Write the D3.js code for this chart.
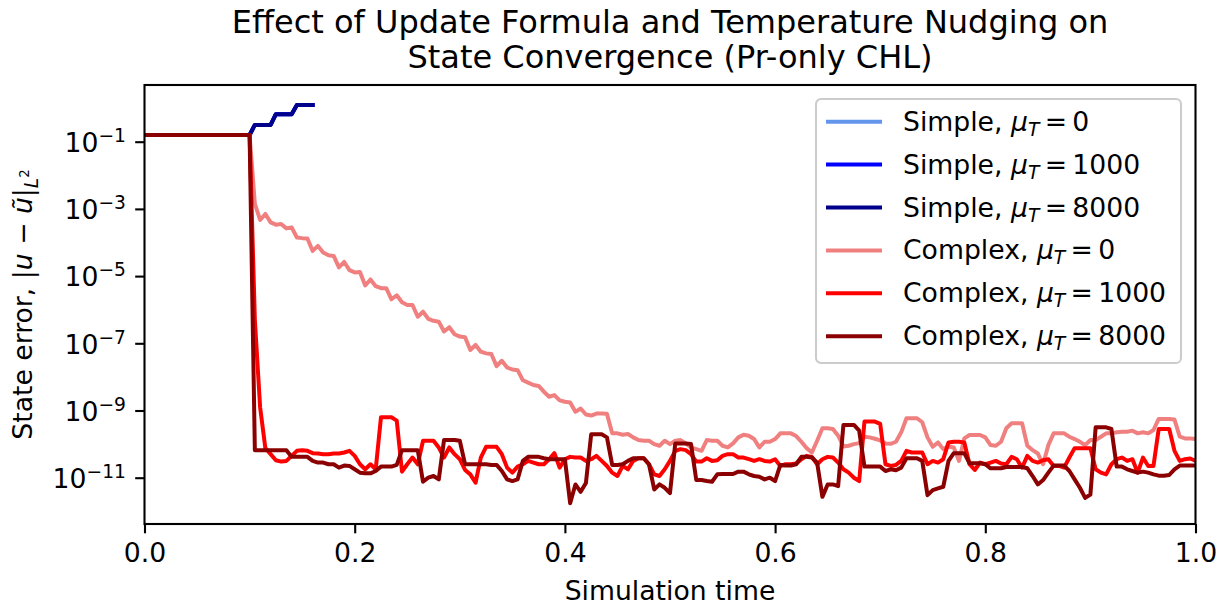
<!DOCTYPE html>
<html>
<head>
<meta charset="utf-8">
<script src="https://cdn.jsdelivr.net/npm/d3@7"></script>
<style>
  body { margin: 0; background: #ffffff; }
  text { font-family: "DejaVu Sans", sans-serif; fill: #000000; }
</style>
</head>
<body>
<svg id="convergence_chart" width="1228" height="610"></svg>
<script>
/*
 * State error vs simulation time for the simple and complex update formulas,
 * three temperature nudging strengths each. Values are log10 of the error,
 * sampled every 0.005 from t = 0.1 on; the error is flat before that.
 */

var startTime = 0.1;
var step = 0.005;

var xTicks = [0.0, 0.2, 0.4, 0.6, 0.8, 1.0];
var yTickExponents = [-1, -3, -5, -7, -9, -11];

var seriesNames = ['Simple', 'Simple', 'Simple', 'Complex', 'Complex', 'Complex'];
var seriesMu = ['0', '1000', '8000', '0', '1000', '8000'];
var seriesColors = ['#6495ed', '#0000ff', '#00008b', '#f08080', '#ff0000', '#8b0000'];

// simple formula blows up; all three nudging values lie on top of each other
var simpleLog = [-0.8, -0.5, -0.5, -0.5, -0.5, -0.18, -0.18, -0.18, -0.18, 0.09, 0.09, 0.09, 0.09];

var complex0Log = [
  -0.8, -2.85, -3.33, -3.15, -3.4, -3.47, -3.45, -3.58, -3.55, -3.85,
  -3.87, -3.88, -4.25, -4.1, -4.3, -4.38, -4.4, -4.74, -4.58, -4.82,
  -4.89, -4.88, -5.28, -5.1, -5.3, -5.36, -5.36, -5.69, -5.57, -5.78,
  -5.86, -5.86, -6.21, -6.06, -6.27, -6.33, -6.36, -6.65, -6.52, -6.73,
  -6.8, -6.82, -7.2, -7.05, -7.25, -7.3, -7.32, -7.68, -7.52, -7.72,
  -7.78, -7.8, -8.1, -8.17, -8.24, -8.27, -8.44, -8.59, -8.54, -8.7,
  -8.74, -8.76, -9.04, -8.94, -9.12, -9.15, -9.09, -9.09, -9.1, -9.68,
  -9.68, -9.72, -9.7, -9.8, -9.88, -9.9, -9.9, -10.0, -10.05, -9.9,
  -10.0, -9.9, -9.88, -9.98, -10.1, -10.15, -10.2, -9.88, -9.9, -9.9,
  -10.05, -10.1, -9.98, -9.8, -9.72, -9.75, -9.85, -10.1, -9.93, -9.93,
  -9.85, -9.68, -9.68, -9.68, -9.76, -9.93, -10.12, -10.25, -9.9, -9.53,
  -9.53, -9.55, -9.75, -10.07, -10.05, -10.0, -9.97, -9.78, -9.8, -9.84,
  -9.89, -9.98, -9.99, -9.93, -9.65, -9.23, -9.23, -9.23, -9.35, -9.8,
  -10.08, -9.95, -10.15, -10.07, -10.1, -10.5, -9.83, -9.73, -9.73, -9.73,
  -9.8, -10.03, -10.05, -9.93, -9.53, -9.38, -9.38, -9.38, -10.05, -10.18,
  -10.28, -10.6, -10.03, -9.68, -9.68, -9.68, -9.78, -9.85, -9.93, -10.03,
  -9.88, -9.88, -9.78, -9.68, -9.68, -9.65, -9.63, -9.63, -9.6, -9.68,
  -9.65, -9.68, -9.58, -9.25, -9.25, -9.25, -9.27, -9.78, -9.83, -9.83,
  -9.85
];

var complex1000Log = [
  -0.8, -6.3, -8.9, -10.12, -10.3, -10.48, -10.52, -10.5, -10.35, -10.2,
  -10.18, -10.2, -10.27, -10.28, -10.3, -10.3, -10.28, -10.28, -10.25, -10.2,
  -10.35, -10.6, -10.75, -10.6, -10.75, -9.2, -9.2, -9.2, -9.3, -10.82,
  -10.6, -10.4, -10.6, -9.9, -9.9, -9.9, -10.1, -10.4, -10.1, -10.3,
  -10.45, -10.77, -10.9, -11.15, -10.4, -10.08, -10.08, -10.08, -10.3, -10.7,
  -10.85, -10.67, -10.6, -10.5, -10.55, -10.6, -10.6, -10.45, -10.27, -10.7,
  -10.45, -10.38, -10.4, -10.4, -10.5, -10.45, -10.35, -10.5, -10.65, -10.85,
  -10.95, -10.65, -10.75, -10.5, -10.42, -10.42, -10.6, -10.9, -10.95, -10.75,
  -10.5, -10.2, -10.15, -10.18, -10.3, -10.52, -10.52, -10.42, -10.5, -10.48,
  -10.35, -10.3, -10.3, -10.4, -10.4, -10.45, -10.5, -10.45, -10.5, -10.52,
  -10.45, -10.65, -10.6, -10.6, -10.58, -10.45, -10.35, -10.38, -10.6, -10.45,
  -10.38, -10.4, -10.55, -10.75, -10.85, -11.0, -11.1, -9.33, -9.33, -9.33,
  -9.4, -10.6, -10.65, -10.62, -10.5, -10.2, -10.25, -10.25, -10.25, -10.6,
  -10.5, -10.55, -10.45, -9.95, -9.93, -9.93, -9.95, -10.6, -10.77, -10.55,
  -10.6, -10.55, -10.5, -10.58, -10.6, -10.38, -10.45, -10.7, -10.35, -10.5,
  -10.55, -10.48, -10.45, -10.65, -10.65, -10.7, -10.4, -10.12, -10.12, -10.12,
  -10.12, -10.75, -10.85, -10.9, -10.6, -10.45, -10.4, -10.5, -10.45, -10.85,
  -10.4, -10.65, -10.65, -9.55, -9.55, -9.55, -10.2, -10.5, -10.45, -10.43,
  -10.5
];

var complex8000Log = [
  -0.8, -10.18, -10.18, -10.18, -10.18, -10.18, -10.18, -10.18, -10.38, -10.38,
  -10.38, -10.38, -10.5, -10.55, -10.55, -10.6, -10.6, -10.7, -10.64, -10.65,
  -10.75, -10.85, -10.87, -10.87, -10.8, -10.67, -10.67, -10.67, -10.62, -10.18,
  -10.18, -10.18, -10.18, -11.12, -11.0, -10.95, -11.05, -9.88, -9.88, -9.88,
  -9.9, -10.6, -10.6, -10.6, -10.6, -10.6, -10.62, -10.62, -10.8, -11.05,
  -11.1, -11.05, -10.5, -10.38, -10.38, -10.38, -10.42, -10.45, -10.45, -10.45,
  -10.45, -11.76, -11.2, -11.42, -11.16, -9.71, -9.71, -9.71, -9.8, -10.62,
  -10.62, -10.6, -10.5, -10.42, -10.42, -10.42, -10.6, -11.35, -11.2, -11.3,
  -11.46, -9.98, -9.98, -9.98, -10.0, -11.07, -11.07, -11.1, -11.12, -10.9,
  -10.89, -10.89, -10.89, -10.82, -10.82, -10.9, -10.95, -10.97, -11.05, -11.0,
  -11.1, -10.62, -10.64, -10.64, -10.6, -10.38, -10.38, -10.4, -10.55, -11.57,
  -11.2, -11.2, -11.25, -9.43, -9.43, -9.43, -9.6, -10.67, -10.67, -10.67,
  -10.67, -10.8, -10.75, -10.78, -10.7, -10.42, -10.42, -10.42, -10.5, -11.52,
  -11.37, -11.32, -11.27, -10.5, -10.27, -10.27, -10.27, -10.57, -10.57, -10.57,
  -10.6, -10.72, -10.72, -10.72, -10.68, -10.68, -10.68, -10.68, -10.72, -10.95,
  -11.2, -11.07, -10.85, -10.64, -10.64, -10.64, -10.8, -11.05, -11.3, -11.6,
  -11.5, -9.5, -9.5, -9.5, -9.55, -10.67, -10.67, -10.75, -10.8, -10.85,
  -10.82, -10.85, -10.9, -10.94, -10.94, -10.92, -10.75, -10.64, -10.64, -10.64,
  -10.64
];

var seriesLogs = [simpleLog, simpleLog, simpleLog, complex0Log, complex1000Log, complex8000Log];

function toPoints(logs) {
  /* Turn a list of log10 errors into {t, value} points, holding the first value from t = 0. */
  var points = [{ t: 0, value: Math.pow(10, logs[0]) }];
  logs.forEach(function(e, i) {
    points.push({ t: startTime + i * step, value: Math.pow(10, e) });
  });
  return points;
}

function renderChart(element) {
  var svg = d3.select('#' + element),
    margin = {top: 85, right: 32.5, bottom: 86, left: 144.5},
    width = svg.attr('width') - margin.left - margin.right,
    height = svg.attr('height') - margin.top - margin.bottom;

  var fontSize = 26.67;
  var tick = 9.3;

  var x = d3.scaleLinear().domain([0, 1]).range([0, width]);
  var y = d3.scaleLog().domain([Math.pow(10, -12.378), Math.pow(10, 0.6875)]).range([height, 0]);

  var g = svg.append('g')
    .attr('transform', 'translate(' + margin.left + ', ' + margin.top + ')');

  g.append('clipPath')
    .attr('id', 'plot_clip')
    .append('rect')
      .attr('width', width)
      .attr('height', height);

  var line = d3.line()
    .x(function(d) { return x(d.t); })
    .y(function(d) { return y(d.value); });

  g.append('g')
    .attr('clip-path', 'url(#plot_clip)')
    .selectAll('.series')
    .data(seriesLogs)
    .enter()
    .append('path')
      .attr('class', 'series')
      .attr('fill', 'none')
      .attr('stroke', function(d, i) { return seriesColors[i]; })
      .attr('stroke-width', 4)
      .attr('stroke-linejoin', 'round')
      .attr('stroke-linecap', 'square')
      .attr('d', function(d) { return line(toPoints(d)); });

  // X Axis
  var xAxis = g.append('g')
    .attr('transform', 'translate(0, ' + height + ')')
    .call(d3.axisBottom(x)
      .tickValues(xTicks)
      .tickFormat(d3.format('.1f'))
      .tickSize(tick)
      .tickPadding(tick)
      .tickSizeOuter(0));

  // Y Axis
  var yAxis = g.append('g')
    .call(d3.axisLeft(y)
      .tickValues(yTickExponents.map(function(e) { return Math.pow(10, e); }))
      .tickFormat('')
      .tickSize(tick)
      .tickPadding(tick)
      .tickSizeOuter(0));

  [xAxis, yAxis].forEach(function(a) {
    a.select('.domain').remove();
    a.selectAll('.tick line').attr('stroke', '#000').attr('stroke-width', 2.1);
    a.selectAll('.tick text')
      .attr('font-family', '"DejaVu Sans", sans-serif')
      .attr('font-size', fontSize)
      .attr('fill', '#000');
  });

  yAxis.selectAll('.tick text')
    .attr('dy', 9.7)
    .each(function(d, i) {
      var t = d3.select(this);
      t.append('tspan').text('10');
      t.append('tspan')
        .attr('font-size', fontSize * 0.7)
        .attr('dy', -10)
        .text('\u2212' + Math.abs(yTickExponents[i]));
    });

  // frame
  g.append('rect')
    .attr('width', width)
    .attr('height', height)
    .attr('fill', 'none')
    .attr('stroke', '#000')
    .attr('stroke-width', 2.1);

  // Labels
  svg.append('text')
    .attr('x', margin.left + width / 2)
    .attr('y', 600)
    .attr('text-anchor', 'middle')
    .attr('font-size', fontSize)
    .text('Simulation time');

  var yLabel = svg.append('text')
    .attr('transform', 'translate(32, ' + (margin.top + height / 2) + ') rotate(-90)')
    .attr('text-anchor', 'middle')
    .attr('font-size', fontSize);
  yLabel.append('tspan').text('State error, |');
  yLabel.append('tspan').attr('font-style', 'italic').text('u');
  yLabel.append('tspan').text(' \u2212 ');
  yLabel.append('tspan').attr('font-style', 'italic').text('\u0169');
  yLabel.append('tspan').text('|');
  yLabel.append('tspan').attr('font-style', 'italic').attr('font-size', fontSize * 0.7).attr('dy', 6).text('L');
  yLabel.append('tspan').attr('font-size', fontSize * 0.5).attr('dy', -9).text('2');

  var title = svg.append('text')
    .attr('text-anchor', 'middle')
    .attr('font-size', 32);
  title.append('tspan').attr('x', margin.left + width / 2).attr('y', 33)
    .text('Effect of Update Formula and Temperature Nudging on');
  title.append('tspan').attr('x', margin.left + width / 2).attr('y', 68)
    .text('State Convergence (Pr-only CHL)');

  // Legend
  var legend = svg.append('g').attr('transform', 'translate(816, 99)');
  legend.append('rect')
    .attr('width', 365)
    .attr('height', 264)
    .attr('rx', 5)
    .attr('fill', '#fff')
    .attr('fill-opacity', 0.8)
    .attr('stroke', '#cccccc')
    .attr('stroke-width', 2.1);

  var rows = legend.selectAll('.legend_row')
    .data(seriesNames)
    .enter()
    .append('g')
      .attr('class', 'legend_row')
      .attr('transform', function(d, i) { return 'translate(0, ' + (22.7 + i * 42.9) + ')'; });

  rows.append('line')
    .attr('x1', 10)
    .attr('x2', 66)
    .attr('stroke', function(d, i) { return seriesColors[i]; })
    .attr('stroke-width', 4);

  var labels = rows.append('text')
    .attr('x', 87)
    .attr('y', 9)
    .attr('font-size', fontSize);
  labels.append('tspan').text(function(d) { return d + ', '; });
  labels.append('tspan').attr('font-style', 'italic').text('\u03bc');
  labels.append('tspan').attr('font-style', 'italic').attr('font-size', fontSize * 0.7).attr('dy', 5).text('T');
  labels.append('tspan').attr('dy', -5).text(function(d, i) { return '\u2009=\u2009' + seriesMu[i]; });
}

renderChart('convergence_chart');
</script>
</body>
</html>
